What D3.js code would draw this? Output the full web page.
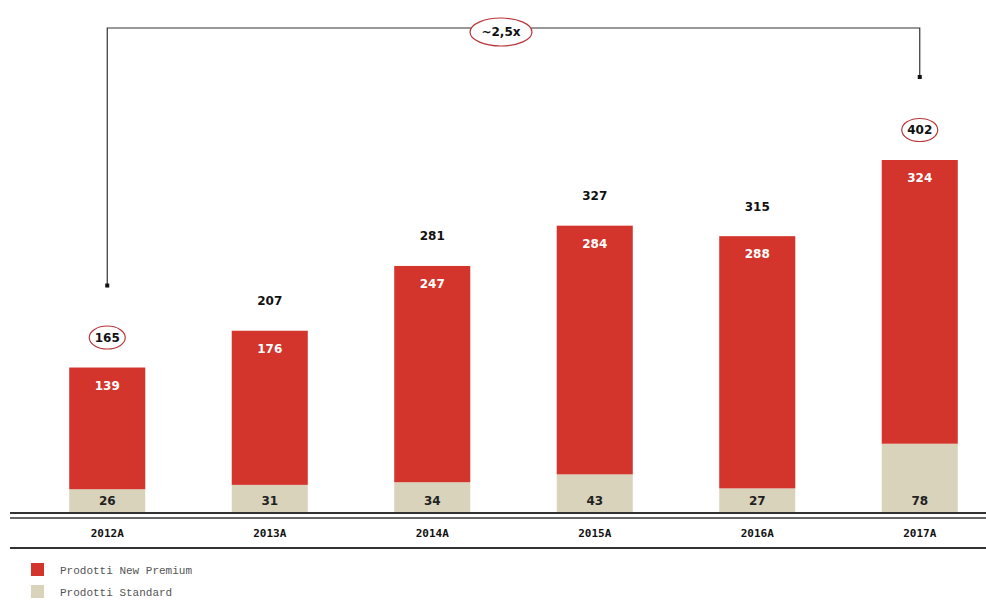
<!DOCTYPE html>
<html>
<head>
<meta charset="utf-8">
<script src="https://cdn.jsdelivr.net/npm/d3@7"></script>
<style>
  body { margin: 0; background: #fff; }
  svg { display: block; }
</style>
</head>
<body>
<svg id="chart" width="986" height="608"></svg>
<script>
// dati
const years = ['2012A', '2013A', '2014A', '2015A', '2016A', '2017A'];
const premium = [139, 176, 247, 284, 288, 324];
const standard = [26, 31, 34, 43, 27, 78];
const seriesNames = ['Prodotti New Premium', 'Prodotti Standard'];
const growthLabel = '~2,5x';

const colors = { premium: '#d3342b', standard: '#d9d3bb' };

const svg = d3.select('#chart');
const baseY = 512;

const rows = years.map((y, i) => ({
  year: y,
  standard: standard[i],
  premium: premium[i],
  total: standard[i] + premium[i]
}));

const x = d3.scaleBand()
  .domain(years)
  .range([26, 1001])
  .paddingInner(0.532)
  .paddingOuter(0.266);

const y = d3.scaleLinear()
  .domain([0, 402])
  .range([baseY, 160]);

const stack = d3.stack().keys(['standard', 'premium'])(rows);

const g = svg.append('g');

g.selectAll('g.layer')
  .data(stack)
  .enter()
  .append('g')
  .attr('class', 'layer')
  .attr('fill', d => colors[d.key])
  .selectAll('rect')
  .data(d => d)
  .enter()
  .append('rect')
  .attr('x', d => x(d.data.year))
  .attr('width', x.bandwidth())
  .attr('y', d => y(d[1]))
  .attr('height', d => y(d[0]) - y(d[1]));

// etichette interne
const font = '"DejaVu Sans", Verdana, sans-serif';
g.selectAll('text.prem')
  .data(rows)
  .enter()
  .append('text')
  .attr('x', d => x(d.year) + x.bandwidth() / 2)
  .attr('y', d => y(d.total) + 22)
  .attr('text-anchor', 'middle')
  .attr('font-family', font)
  .attr('font-weight', 'bold')
  .attr('font-size', 12)
  .attr('fill', '#fff')
  .text(d => d.premium);

g.selectAll('text.std')
  .data(rows)
  .enter()
  .append('text')
  .attr('x', d => x(d.year) + x.bandwidth() / 2)
  .attr('y', baseY - 7)
  .attr('text-anchor', 'middle')
  .attr('font-family', font)
  .attr('font-weight', 'bold')
  .attr('font-size', 12)
  .attr('fill', '#222')
  .text(d => d.standard);

// totali
const tot = g.selectAll('g.tot')
  .data(rows)
  .enter()
  .append('g')
  .attr('transform', d => `translate(${x(d.year) + x.bandwidth() / 2},${y(d.total) - 30})`);

tot.filter((d, i) => i === 0 || i === rows.length - 1)
  .append('ellipse')
  .attr('rx', 18)
  .attr('ry', 11.5)
  .attr('fill', '#fff')
  .attr('stroke', '#b8353a')
  .attr('stroke-width', 1.2);

tot.append('text')
  .attr('text-anchor', 'middle')
  .attr('dy', '0.36em')
  .attr('font-family', font)
  .attr('font-weight', 'bold')
  .attr('font-size', 12)
  .attr('fill', '#111')
  .text(d => d.total);

// linee asse
const axisG = svg.append('g').attr('stroke', '#333').attr('fill', 'none');
axisG.append('line').attr('x1', 10).attr('x2', 986).attr('y1', baseY + 1).attr('y2', baseY + 1).attr('stroke-width', 2);
axisG.append('line').attr('x1', 10).attr('x2', 986).attr('y1', baseY + 6).attr('y2', baseY + 6).attr('stroke-width', 1.5);
axisG.append('line').attr('x1', 10).attr('x2', 986).attr('y1', baseY + 36).attr('y2', baseY + 36).attr('stroke-width', 2);

const xAxis = d3.axisBottom(x).tickSize(0).tickPadding(0);
svg.append('g')
  .attr('transform', `translate(0,${baseY + 25})`)
  .call(xAxis)
  .call(s => s.select('.domain').remove())
  .selectAll('text')
  .attr('dy', 0)
  .attr('font-family', '"DejaVu Sans Mono", monospace')
  .attr('font-weight', 'bold')
  .attr('font-size', 11)
  .attr('fill', '#111');

// parentesi crescita
const first = rows[0], last = rows[rows.length - 1];
const xl = x(first.year) + x.bandwidth() / 2;
const xr = x(last.year) + x.bandwidth() / 2;
const yTop = 28;
const yl = y(first.total) - 82;
const yr = y(last.total) - 83;
svg.append('path')
  .attr('d', `M${xl},${yl} V${yTop} H${xr} V${yr}`)
  .attr('fill', 'none')
  .attr('stroke', '#333')
  .attr('stroke-width', 1.2);
svg.selectAll('rect.dot')
  .data([[xl, yl], [xr, yr]])
  .enter()
  .append('rect')
  .attr('x', d => d[0] - 2)
  .attr('y', d => d[1] - 2)
  .attr('width', 4)
  .attr('height', 4)
  .attr('fill', '#111');

const gx = 501;
svg.append('ellipse')
  .attr('cx', gx).attr('cy', 32)
  .attr('rx', 31).attr('ry', 14)
  .attr('fill', '#fff')
  .attr('stroke', '#b8353a')
  .attr('stroke-width', 1.2);
svg.append('text')
  .attr('x', gx).attr('y', 32)
  .attr('dy', '0.36em')
  .attr('text-anchor', 'middle')
  .attr('font-family', font)
  .attr('font-weight', 'bold')
  .attr('font-size', 12)
  .attr('fill', '#111')
  .text(growthLabel);

// legenda
const leg = svg.append('g').attr('transform', 'translate(31,563)');
const legColors = [colors.premium, colors.standard];
const item = leg.selectAll('g')
  .data(seriesNames)
  .enter()
  .append('g')
  .attr('transform', (d, i) => `translate(0,${i * 22})`);
item.append('rect')
  .attr('width', 13).attr('height', 13)
  .attr('fill', (d, i) => legColors[i]);
item.append('text')
  .attr('x', 29).attr('y', 7)
  .attr('dy', '0.35em')
  .attr('font-family', '"Liberation Mono", "DejaVu Sans Mono", monospace')
  .attr('font-size', 11)
  .attr('fill', '#555')
  .text(d => d);
</script>
</body>
</html>
